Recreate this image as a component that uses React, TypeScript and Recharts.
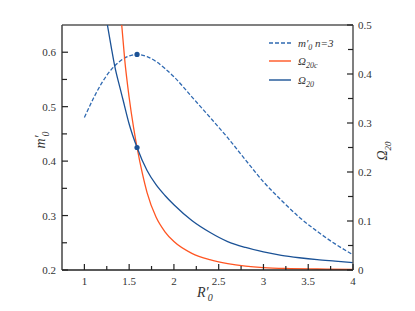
import { LineChart, Line, XAxis, YAxis, ReferenceLine, Legend, Label } from 'recharts';

// m'0 (n=3), left axis
const rM = [1.0, 1.1, 1.2, 1.3, 1.4, 1.5, 1.588, 1.7, 1.8, 1.9, 2.0, 2.2, 2.4, 2.6, 2.8, 3.0, 3.2, 3.4, 3.6, 3.8, 4.0];
const mValues = [0.48, 0.515, 0.545, 0.568, 0.584, 0.593, 0.596, 0.592, 0.583, 0.57, 0.555, 0.518, 0.481, 0.443, 0.402, 0.362, 0.328, 0.297, 0.271, 0.248, 0.228];

// Omega_20, right axis
const rOmega = [1.257, 1.3, 1.339, 1.4, 1.432, 1.5, 1.588, 1.7, 1.8, 1.9, 2.0, 2.2, 2.4, 2.6, 2.8, 3.0, 3.2, 3.4, 3.6, 3.8, 4.0];
const omegaValues = [0.5, 0.455, 0.416, 0.37, 0.347, 0.298, 0.25, 0.203, 0.174, 0.152, 0.133, 0.101, 0.077, 0.058, 0.046, 0.037, 0.03, 0.025, 0.021, 0.018, 0.015];

// Omega_20c, right axis
const rOmegaC = [1.417, 1.45, 1.5, 1.55, 1.588, 1.65, 1.7, 1.8, 1.9, 2.0, 2.2, 2.4, 2.6, 2.8, 3.0, 3.3, 3.6, 4.0];
const omegaCValues = [0.5, 0.43, 0.352, 0.29, 0.25, 0.195, 0.158, 0.108, 0.078, 0.058, 0.034, 0.021, 0.013, 0.008, 0.005, 0.003, 0.002, 0.001];

const MARKED_R = 1.588;

const xTicks = [1, 1.25, 1.5, 1.75, 2, 2.25, 2.5, 2.75, 3, 3.25, 3.5, 3.75, 4];
const leftTicks = [0.2, 0.25, 0.3, 0.35, 0.4, 0.45, 0.5, 0.55, 0.6];
const rightTicks = [0, 0.05, 0.1, 0.15, 0.2, 0.25, 0.3, 0.35, 0.4, 0.45, 0.5];

const mData = rM.map((r, i) => ({ r, m: mValues[i] }));
const omegaData = rOmega.map((r, i) => ({ r, omega: omegaValues[i] }));
const omegaCData = rOmegaC.map((r, i) => ({ r, omegaC: omegaCValues[i] }));

const LEFT = 62;
const RIGHT = 353;
const TOP = 25;
const BOTTOM = 270;
const FONT = "'Liberation Serif', 'Times New Roman', serif";
const TEXT = '#333';

const DASH_BLUE = '#2f69b1';
const BLUE = '#1b5296';
const RED = '#ff5522';

const isStep = (v: number, step: number) => Math.abs(v / step - Math.round(v / step)) < 1e-6;

function XTick({ x, payload }: any) {
  const v = payload.value;
  const major = isStep(v, 0.5);
  return (
    <g>
      <line x1={x} x2={x} y1={BOTTOM} y2={BOTTOM - (major ? 6 : 4)} stroke="#222" strokeWidth={1.2} />
      {major && (
        <text x={x} y={BOTTOM + 15} textAnchor="middle" style={{ fontFamily: FONT }} fontSize={11} fill={TEXT}>
          {String(v)}
        </text>
      )}
    </g>
  );
}

function LeftTick({ y, payload }: any) {
  const v = payload.value;
  const major = isStep(v, 0.1);
  return (
    <g>
      <line x1={LEFT} x2={LEFT + (major ? 6 : 5)} y1={y} y2={y} stroke="#222" strokeWidth={1.2} />
      {major && (
        <text x={LEFT - 6} y={y + 4} textAnchor="end" style={{ fontFamily: FONT }} fontSize={11} fill={TEXT}>
          {String(v)}
        </text>
      )}
    </g>
  );
}

function RightTick({ y, payload }: any) {
  const v = payload.value;
  const major = isStep(v, 0.1);
  return (
    <g>
      <line x1={RIGHT} x2={RIGHT - (major ? 6 : 5)} y1={y} y2={y} stroke="#222" strokeWidth={1.2} />
      {major && (
        <text x={RIGHT + 5} y={y + 4} textAnchor="start" style={{ fontFamily: FONT }} fontSize={11} fill={TEXT}>
          {String(v)}
        </text>
      )}
    </g>
  );
}

const markDot = (color: string) => (props: any) => {
  const { cx, cy, payload, index } = props;
  if (payload && payload.r === MARKED_R) {
    return <circle key={`dot-${index}`} cx={cx} cy={cy} r={2.6} fill={color} stroke="none" />;
  }
  return <g key={`dot-${index}`} />;
};

function LegendBox() {
  const rows = [
    { y: 11, color: DASH_BLUE, dash: '4 2', label: 'm', prime: true, sub: '0', tail: ' n=3' },
    { y: 29, color: RED, dash: undefined, label: 'Ω', prime: false, sub: '20c', tail: '' },
    { y: 48, color: BLUE, dash: undefined, label: 'Ω', prime: false, sub: '20', tail: '' },
  ];
  return (
    <svg width={140} height={60} style={{ display: 'block', overflow: 'visible' }}>
      {rows.map((row) => (
        <g key={row.sub}>
          <line x1={7} x2={29} y1={row.y} y2={row.y} stroke={row.color} strokeWidth={1.4} strokeDasharray={row.dash} />
          <text x={36} y={row.y + 4} style={{ fontFamily: FONT }} fontStyle="italic" fontSize={11} fill={TEXT}>
            {row.label}
            {row.prime && <tspan>′</tspan>}
            <tspan dy={3} fontSize={8}>{row.sub}</tspan>
            {row.tail && <tspan dy={-3}>{row.tail}</tspan>}
          </text>
        </g>
      ))}
    </svg>
  );
}

export default function App() {
  return (
    <div style={{ position: 'absolute', left: 0, top: 0, width: 415, height: 311, background: '#fff' }}>
      <LineChart width={415} height={311} margin={{ top: TOP, right: 0, bottom: 0, left: 0 }}>
        <XAxis
          dataKey="r"
          type="number"
          domain={[0.75, 4]}
          ticks={xTicks}
          allowDataOverflow
          height={311 - BOTTOM}
          axisLine={{ stroke: '#222', strokeWidth: 1.5 }}
          tickLine={false}
          tick={<XTick />}
          interval={0}
        >
          <Label
            content={() => (
              <text x={197} y={297} style={{ fontFamily: FONT }} fontStyle="italic" fontSize={14} fill={TEXT}>
                R′<tspan dx={-1} dy={4} fontSize={10}>0</tspan>
              </text>
            )}
          />
        </XAxis>
        <YAxis
          yAxisId="left"
          orientation="left"
          type="number"
          domain={[0.2, 0.65]}
          ticks={leftTicks}
          allowDataOverflow
          width={LEFT}
          axisLine={{ stroke: '#444', strokeWidth: 1.5 }}
          tickLine={false}
          tick={<LeftTick />}
          interval={0}
        >
          <Label
            content={() => (
              <text
                x={45}
                y={140}
                transform="rotate(-90, 45, 140)"
                style={{ fontFamily: FONT }}
                fontStyle="italic"
                fontSize={14}
                fill={TEXT}
                textAnchor="middle"
              >
                m′<tspan dx={-1} dy={4} fontSize={10}>0</tspan>
              </text>
            )}
          />
        </YAxis>
        <YAxis
          yAxisId="right"
          orientation="right"
          type="number"
          domain={[0, 0.5]}
          ticks={rightTicks}
          allowDataOverflow
          width={415 - RIGHT}
          axisLine={{ stroke: '#555', strokeWidth: 1.5 }}
          tickLine={false}
          tick={<RightTick />}
          interval={0}
        >
          <Label
            content={() => (
              <text
                x={387}
                y={151}
                transform="rotate(-90, 387, 151)"
                style={{ fontFamily: FONT }}
                fontStyle="italic"
                fontSize={14}
                fill={TEXT}
                textAnchor="middle"
              >
                Ω<tspan dy={4} fontSize={9}>20</tspan>
              </text>
            )}
          />
        </YAxis>
        <ReferenceLine yAxisId="left" y={0.65} stroke="#808080" strokeWidth={2} />
        <Legend
          layout="vertical"
          align="center"
          verticalAlign="middle"
          wrapperStyle={{ left: 262, top: 32, width: 140, height: 60 }}
          content={() => <LegendBox />}
        />
        <Line
          yAxisId="left"
          data={mData}
          dataKey="m"
          type="monotone"
          stroke={DASH_BLUE}
          strokeWidth={1.3}
          strokeDasharray="4 2"
          dot={markDot(BLUE)}
          activeDot={false}
          isAnimationActive={false}
        />
        <Line
          yAxisId="right"
          data={omegaCData}
          dataKey="omegaC"
          type="monotone"
          stroke={RED}
          strokeWidth={1.3}
          dot={false}
          activeDot={false}
          isAnimationActive={false}
        />
        <Line
          yAxisId="right"
          data={omegaData}
          dataKey="omega"
          type="monotone"
          stroke={BLUE}
          strokeWidth={1.3}
          dot={markDot(BLUE)}
          activeDot={false}
          isAnimationActive={false}
        />
      </LineChart>
    </div>
  );
}
